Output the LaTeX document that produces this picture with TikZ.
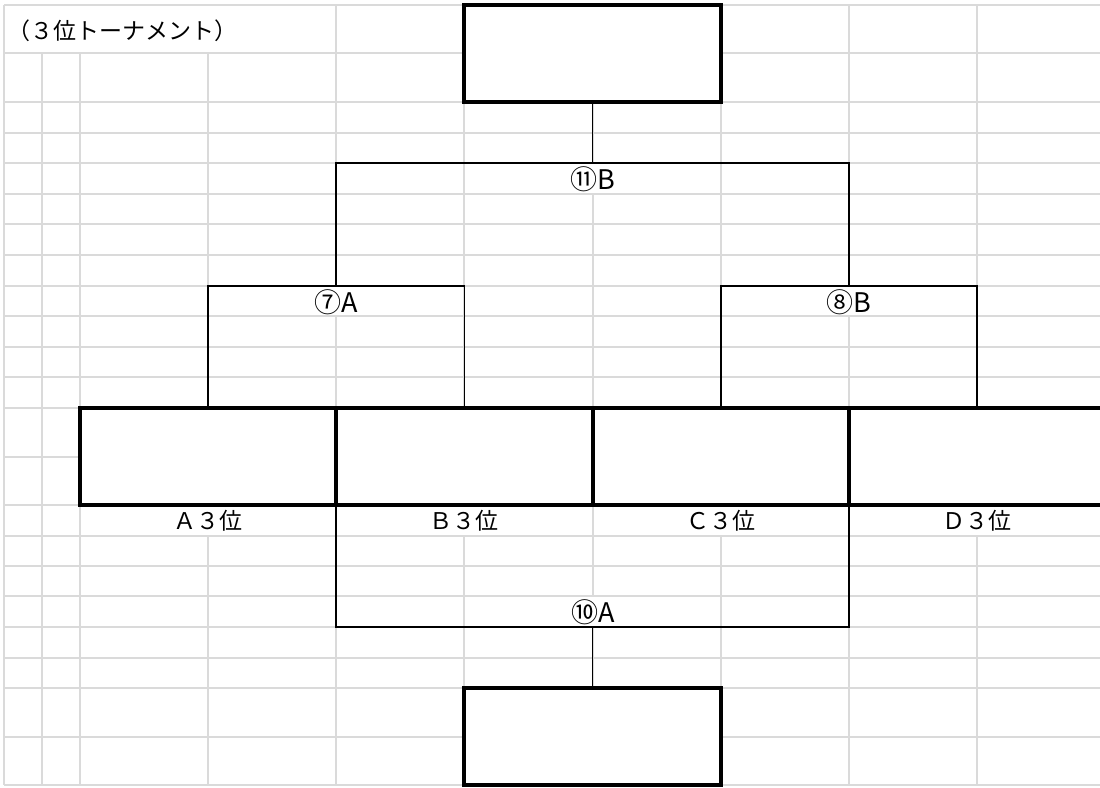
\documentclass[tikz,border=0pt]{standalone}
\usepackage{fontspec}
\setmainfont{Noto Sans CJK JP}
\definecolor{gridc}{RGB}{218,218,218}
\begin{document}
\begin{tikzpicture}[x=1pt,y=-1pt,
  gridline/.style={draw=gridc,line width=1.3pt},
  wire/.style={draw=black,line width=1.7pt},
  slot/.style={draw=black,line width=3.6pt,fill=white,inner sep=0pt,outer sep=0pt,
    minimum width=257pt,minimum height=97pt},
  lbl/.style={font=\fontsize{27}{27}\selectfont,inner sep=0pt},
  team/.style={font=\fontsize{23}{23}\selectfont,inner sep=0pt},
  ttl/.style={font=\fontsize{23}{23}\selectfont,inner sep=0pt}]
\useasboundingbox (0,0) rectangle (1100,787);
\fill[white] (0,0) rectangle (1100,787);
% grid: horizontal
\foreach \y in {5,53,102,133,163,194,224,255,286,316,347,377,408,457,505,536,566,596,627,658,688,737,785}
  \draw[gridline] (4,\y) -- (1100,\y);
% grid: vertical
\draw[gridline] (4,5) -- (4,785);
\foreach \x in {42,80} \draw[gridline] (\x,53) -- (\x,785);
\foreach \x in {208,464,721,977} {
  \draw[gridline] (\x,\ifnum\x=208 53\else 5\fi) -- (\x,505);
  \draw[gridline] (\x,536) -- (\x,785);
}
\foreach \x in {336,849} {
  \draw[gridline] (\x,5) -- (\x,286);
  \draw[gridline] (\x,316) -- (\x,785);
}
\draw[gridline] (593,5) -- (593,163);
\draw[gridline] (593,194) -- (593,596);
\draw[gridline] (593,627) -- (593,785);
% title
\node[ttl,anchor=center] (title) at (122,31) {（３位トーナメント）};
% bracket coordinates
\coordinate (j11) at (592.5,163);
\coordinate (l11) at (336,163);
\coordinate (r11) at (849,163);
\coordinate (j7) at (336,286);
\coordinate (l7) at (208,286);
\coordinate (r7) at (464.5,286);
\coordinate (j8) at (849,286);
\coordinate (l8) at (721,286);
\coordinate (r8) at (977,286);
\coordinate (l10) at (336,627);
\coordinate (r10) at (849,627);
\coordinate (j10) at (592.5,627);
% boxes (placed first so anchors exist; connectors drawn behind via layers order below)
\begin{scope}
\node[slot] (top) at (592.5,53.5) {};
\node[slot,minimum width=256pt] (ba) at (208,456.5) {};
\node[slot,minimum width=257pt] (bb) at (464.5,456.5) {};
\node[slot,minimum width=256pt] (bc) at (721,456.5) {};
\node[slot,minimum width=256pt] (bd) at (977,456.5) {};
\node[slot] (bot) at (592.5,736.5) {};
\end{scope}
% connectors
\draw[wire] (top.south) -- (j11);
\draw[wire] (j7) -- (l11) -- (r11) -- (j8);
\draw[wire] (ba.north) -- (l7) -- (r7) -- (bb.north);
\draw[wire] (bc.north) -- (l8) -- (r8) -- (bd.north);
\draw[wire] (bb.south west) -- (l10) -- (r10) -- (bc.south east);
\draw[wire] (j10) -- (bot.north);
% labels
\node[lbl] (t11) at (593,179) {⑪B};
\node[lbl] (t7) at (336,302) {⑦A};
\node[lbl] (t8) at (849,302) {⑧B};
\node[lbl] (t10) at (593,612) {⑩A};
\node[team] (ta) at (208,521) {Ａ３位};
\node[team] (tb) at (464,521) {Ｂ３位};
\node[team] (tc) at (721,521) {Ｃ３位};
\node[team] (td) at (977,521) {Ｄ３位};
\end{tikzpicture}
\end{document}
